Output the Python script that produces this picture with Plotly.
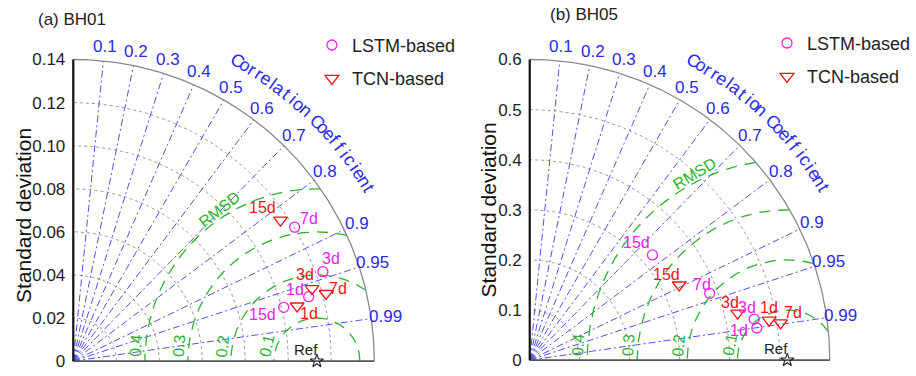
import numpy as np
import plotly.graph_objects as go

W, H = 916, 376
FONT = "Liberation Sans, Arial, Helvetica, sans-serif"

# ---------------- data ----------------
LEADS = ["1d", "3d", "7d", "15d"]
CORR_TICKS = [0.1, 0.2, 0.3, 0.4, 0.5, 0.6, 0.7, 0.8, 0.9, 0.95, 0.99]
CORR_TICK_LABELS = ["0.1", "0.2", "0.3", "0.4", "0.5", "0.6", "0.7", "0.8", "0.9", "0.95", "0.99"]
CORR_TITLE = "Correlation Coefficient"
YLABEL = "Standard deviation"

A_TITLE = "(a) BH01"
A_REF_STD = 0.1133
A_LSTM_STD = [0.1135, 0.1233, 0.1203, 0.1010]
A_LSTM_CORR = [0.9647, 0.9416, 0.856, 0.969]
A_TCN_STD = [0.1072, 0.1160, 0.1217, 0.1165]
A_TCN_CORR = [0.9711, 0.957, 0.9662, 0.8274]
A_STD_TICKS = [0, 0.02, 0.04, 0.06, 0.08, 0.10, 0.12, 0.14]
A_STD_TICK_LABELS = ["0", "0.02", "0.04", "0.06", "0.08", "0.10", "0.12", "0.14"]
A_RMSD_LEVELS = [0.02, 0.04, 0.06, 0.08]
A_RMSD_LABELS = ["0.1", "0.2", "0.3", "0.4"]

B_TITLE = "(b) BH05"
B_REF_STD = 0.515
B_LSTM_STD = [0.4586, 0.4563, 0.3837, 0.3230]
B_LSTM_CORR = [0.9902, 0.9838, 0.9377, 0.760]
B_TCN_STD = [0.4852, 0.4262, 0.5071, 0.3345]
B_TCN_CORR = [0.9864, 0.9755, 0.9892, 0.8939]
B_STD_TICKS = [0, 0.1, 0.2, 0.3, 0.4, 0.5, 0.6]
B_STD_TICK_LABELS = ["0", "0.1", "0.2", "0.3", "0.4", "0.5", "0.6"]
B_RMSD_LEVELS = [0.1, 0.2, 0.3, 0.4]
B_RMSD_LABELS = ["0.1", "0.2", "0.3", "0.4"]

# ---------------- style / layout ----------------
BLUE = "#5050ec"
BLUE_TXT = "#2a2ae6"
GREEN = "#2db32d"
MAGENTA = "#ee22ee"
RED = "#f01515"

PANELS = [
    dict(n="", title=A_TITLE, ref=A_REF_STD, lstm=(A_LSTM_STD, A_LSTM_CORR), tcn=(A_TCN_STD, A_TCN_CORR),
         ticks=A_STD_TICKS, tick_labels=A_STD_TICK_LABELS, rmsd=A_RMSD_LEVELS, rmsd_labels=A_RMSD_LABELS,
         ox=74, oy=364, rpx=304,
         lstm_off=[(-14, -7), (8, -13), (14, -9), (-21, 7)],
         tcn_off=[(12, 8), (-7, -14), (12, -5), (-18, -13)],
         rmsd_word_deg=122.8, rmsd_word_rot=-38,
         title_px=(73, 20), ylabel_px=(24, 217), legend_px=(315, 27), legend="legend"),
    dict(n="2", title=B_TITLE, ref=B_REF_STD, lstm=(B_LSTM_STD, B_LSTM_CORR), tcn=(B_TCN_STD, B_TCN_CORR),
         ticks=B_STD_TICKS, tick_labels=B_STD_TICK_LABELS, rmsd=B_RMSD_LEVELS, rmsd_labels=B_RMSD_LABELS,
         ox=535, oy=363, rpx=303,
         lstm_off=[(-18, 2), (-7, -12), (-8, -9), (-16, -12)],
         tcn_off=[(0, -13), (-8, -11), (12, -10), (-13, -10)],
         rmsd_word_deg=116.4, rmsd_word_rot=-31,
         title_px=(590, 15), ylabel_px=(493, 212), legend_px=(775, 25), legend="legend2"),
]

fig = go.Figure()
annotations = []
layout = {}


def pol(r, c):
    c = np.asarray(c, dtype=float)
    r = np.asarray(r, dtype=float)
    return r * c, r * np.sqrt(1 - c ** 2)


for p in PANELS:
    n = p["n"]
    xa, ya = "x" + n, "y" + n
    rmax = p["ticks"][-1]
    s = p["rpx"] / rmax
    pad = 7
    layout["xaxis" + n] = dict(
        domain=[(p["ox"] - pad) / W, (p["ox"] + 1.24 * p["rpx"]) / W],
        range=[-pad / s, 1.24 * p["rpx"] / s], visible=False, fixedrange=True)
    layout["yaxis" + n] = dict(
        domain=[(H - p["oy"] - pad) / H, 1.0],
        range=[-pad / s, p["oy"] / s], showgrid=False, zeroline=False, showline=False,
        tickvals=p["ticks"], ticktext=p["tick_labels"], ticks="",
        tickfont=dict(size=17, color="#222", family=FONT), fixedrange=True, anchor=xa)

    # std dotted circles
    th = np.linspace(0, np.pi / 2, 120)
    gx, gy = [], []
    for t in p["ticks"][1:-1]:
        gx += list(t * np.cos(th)) + [None]
        gy += list(t * np.sin(th)) + [None]
    fig.add_trace(go.Scatter(x=gx, y=gy, xaxis=xa, yaxis=ya, mode="lines", showlegend=False,
                             line=dict(color="#9a9a9a", width=1, dash="dot"), hoverinfo="skip"))
    # correlation lines
    cx, cy = [], []
    for c in CORR_TICKS:
        ex, ey = pol(rmax, c)
        cx += [0, float(ex), None]
        cy += [0, float(ey), None]
    fig.add_trace(go.Scatter(x=cx, y=cy, xaxis=xa, yaxis=ya, mode="lines", showlegend=False,
                             line=dict(color=BLUE, width=1, dash="7px,3px,2px,3px"), hoverinfo="skip"))
    # RMSD circles
    tt = np.linspace(0, np.pi, 600)
    rx, ry = [], []
    for r in p["rmsd"]:
        xx = p["ref"] + r * np.cos(tt)
        yy = r * np.sin(tt)
        inside = np.hypot(xx, yy) <= rmax
        for a, b, ok in zip(xx, yy, inside):
            rx.append(float(a) if ok else None)
            ry.append(float(b) if ok else None)
        rx.append(None)
        ry.append(None)
    fig.add_trace(go.Scatter(x=rx, y=ry, xaxis=xa, yaxis=ya, mode="lines", showlegend=False,
                             line=dict(color=GREEN, width=1.3, dash="11px,8px"), hoverinfo="skip"))
    # outer arc
    fig.add_trace(go.Scatter(x=list(rmax * np.cos(th)), y=list(rmax * np.sin(th)), xaxis=xa, yaxis=ya,
                             mode="lines", showlegend=False, line=dict(color="#8a8a8a", width=1.3),
                             hoverinfo="skip"))
    # axes lines
    fig.add_trace(go.Scatter(x=[0, rmax], y=[0, 0], xaxis=xa, yaxis=ya, mode="lines", showlegend=False,
                             line=dict(color="#555", width=1.6), hoverinfo="skip"))
    fig.add_trace(go.Scatter(x=[0, 0], y=[0, rmax], xaxis=xa, yaxis=ya, mode="lines", showlegend=False,
                             line=dict(color="#111", width=2.2), hoverinfo="skip"))
    # reference
    fig.add_trace(go.Scatter(x=[p["ref"]], y=[0], xaxis=xa, yaxis=ya, mode="markers", showlegend=False,
                             marker=dict(symbol="star-open", size=10, color="#222", line=dict(width=1.1)),
                             cliponaxis=False, hoverinfo="skip"))
    annotations.append(dict(x=p["ref"], y=0, xref=xa, yref=ya, text="Ref", showarrow=False,
                            xanchor="right", yanchor="bottom", xshift=3, yshift=1,
                            font=dict(size=15, color="#222", family=FONT)))
    # models
    lx, ly = pol(p["lstm"][0], p["lstm"][1])
    tx, ty = pol(p["tcn"][0], p["tcn"][1])
    grp = p["legend"]
    fig.add_trace(go.Scatter(x=lx, y=ly, xaxis=xa, yaxis=ya, mode="markers", name="LSTM-based",
                             legend=grp, legendgroup=grp + "l",
                             marker=dict(symbol="circle-open", size=10, color=MAGENTA, line=dict(width=1.3))))
    fig.add_trace(go.Scatter(x=tx, y=ty, xaxis=xa, yaxis=ya, mode="markers", name="TCN-based",
                             legend=grp, legendgroup=grp + "t",
                             marker=dict(symbol="triangle-down-open", size=12, color=RED, line=dict(width=1.3))))
    for i, lab in enumerate(LEADS):
        dx, dy = p["lstm_off"][i]
        annotations.append(dict(x=float(lx[i]), y=float(ly[i]), xref=xa, yref=ya, text=lab, showarrow=False,
                                xshift=dx, yshift=-dy, font=dict(size=16, color=MAGENTA, family=FONT)))
        dx, dy = p["tcn_off"][i]
        annotations.append(dict(x=float(tx[i]), y=float(ty[i]), xref=xa, yref=ya, text=lab, showarrow=False,
                                xshift=dx, yshift=-dy, font=dict(size=16, color=RED, family=FONT)))
    # correlation tick labels
    for c, lab in zip(CORR_TICKS, CORR_TICK_LABELS):
        ex, ey = pol(rmax * 1.047, c)
        annotations.append(dict(x=float(ex), y=float(ey), xref=xa, yref=ya, text=lab, showarrow=False,
                                font=dict(size=17, color=BLUE_TXT, family=FONT)))
    # curved axis title
    angs = np.linspace(61.2, 30.3, len(CORR_TITLE))
    for ch, a in zip(CORR_TITLE, angs):
        if ch == " ":
            continue
        ex, ey = pol(rmax * 1.135, np.cos(np.radians(a)))
        annotations.append(dict(x=float(ex), y=float(ey), xref=xa, yref=ya, text=ch, showarrow=False,
                                textangle=90 - a, font=dict(size=18, color=BLUE_TXT, family=FONT)))
    # RMSD labels
    h = 15 / s
    for r, lab in zip(p["rmsd"], p["rmsd_labels"]):
        xpos = p["ref"] - np.sqrt(r ** 2 - h ** 2)
        ang = np.degrees(np.arcsin(h / r))
        annotations.append(dict(x=float(xpos), y=h, xref=xa, yref=ya, text=lab, showarrow=False,
                                xshift=-10, textangle=-(90 - ang * 0.6),
                                font=dict(size=16, color=GREEN, family=FONT)))
    wa = np.radians(p["rmsd_word_deg"])
    rw = p["rmsd"][-1] + 8 / s
    annotations.append(dict(x=float(p["ref"] + rw * np.cos(wa)), y=float(rw * np.sin(wa)), xref=xa, yref=ya,
                            text="RMSD", showarrow=False, textangle=p["rmsd_word_rot"],
                            font=dict(size=16, color=GREEN, family=FONT)))
    # titles
    annotations.append(dict(x=p["title_px"][0] / W, y=1 - p["title_px"][1] / H, xref="paper", yref="paper",
                            text=p["title"], showarrow=False, xanchor="center", yanchor="middle",
                            font=dict(size=17, color="#222", family=FONT)))
    annotations.append(dict(x=p["ylabel_px"][0] / W, y=1 - p["ylabel_px"][1] / H, xref="paper", yref="paper",
                            text=YLABEL, showarrow=False, textangle=-90, xanchor="center", yanchor="middle",
                            font=dict(size=21, color="#111", family=FONT)))
    layout[p["legend"]] = dict(x=p["legend_px"][0] / W, y=1 - p["legend_px"][1] / H, xanchor="left",
                               yanchor="top", bgcolor="rgba(0,0,0,0)", tracegroupgap=7, itemwidth=30,
                               font=dict(size=18, color="#222", family=FONT))

fig.update_layout(
    width=W, height=H, autosize=False,
    margin=dict(l=0, r=0, t=0, b=0),
    paper_bgcolor="white", plot_bgcolor="rgba(0,0,0,0)",
    annotations=annotations, showlegend=True,
    **layout,
)

fig.write_html("out.html", config={"displayModeBar": False},
               post_script="document.body.style.margin='0';document.body.style.overflow='hidden';")
